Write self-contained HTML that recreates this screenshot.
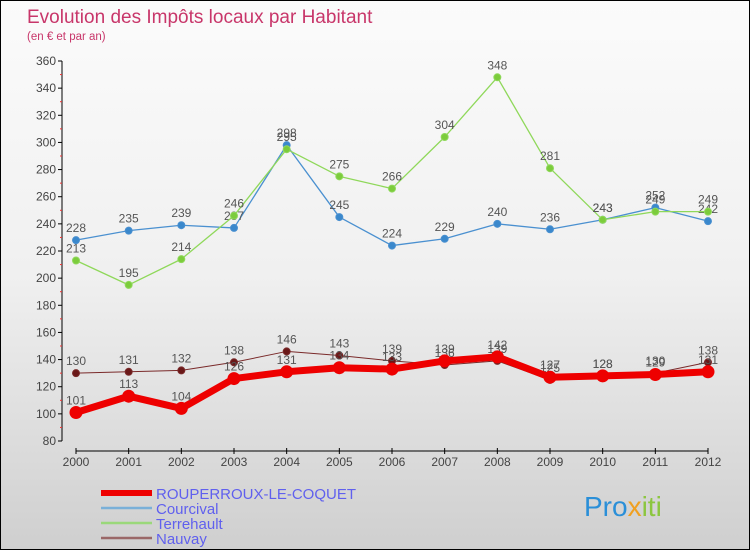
<!DOCTYPE html>
<html><head><meta charset="utf-8"><style>
body{margin:0;width:750px;height:550px;overflow:hidden;font-family:"Liberation Sans",sans-serif}
#wrap{position:relative;width:748px;height:548px;border:1px solid #000;background:linear-gradient(#fbfbfb,#f0f0f0 50%,#cfcfcf)}
</style></head><body>
<div id="wrap">
<svg id="chart" width="748" height="548">
<text x="26" y="22" font-size="19" fill="#c8366a">Evolution des Impôts locaux par Habitant</text>
<text x="26" y="39" font-size="11.5" fill="#c8366a">(en € et par an)</text>
<g id="axes"></g><g id="series"></g><g id="legend"></g>
<text x="583" y="515" font-size="28" fill="#2a8fd8">Pro<tspan fill="#f0a020">x</tspan><tspan fill="#8cc63f">iti</tspan></text>
</svg></div>
<script>
const years=[2000,2001,2002,2003,2004,2005,2006,2007,2008,2009,2010,2011,2012];
const rouperroux=[101,113,104,126,131,134,133,139,142,127,128,129,131];
const courcival=[228,235,239,237,298,245,224,229,240,236,243,252,242];
const terrehault=[213,195,214,246,295,275,266,304,348,281,243,249,249];
const nauvay=[130,131,132,138,146,143,139,136,139,125,128,130,138];
const yTicks=[80,100,120,140,160,180,200,220,240,260,280,300,320,340,360];
const NS="http://www.w3.org/2000/svg";
function X(i){return 75+i*(707-75)/(years.length-1);}
function Y(v){return 440-(v-80)*(380/280);}
function mk(t,a,p){const e=document.createElementNS(NS,t);for(const k in a)e.setAttribute(k,a[k]);p.appendChild(e);return e;}
const ax=document.getElementById('axes');
let l=mk('line',{x1:61,y1:60,x2:61,y2:440,stroke:'#000'},ax);


yTicks.forEach(v=>{
 mk('line',{x1:57,y1:Y(v),x2:61,y2:Y(v),stroke:'#000'},ax);
 if(v<360) mk('line',{x1:59,y1:Y(v+10),x2:61,y2:Y(v+10),stroke:'#e33'},ax);
 const t=mk('text',{x:55,y:Y(v)+4,'text-anchor':'end','font-size':12,fill:'#444'},ax);t.textContent=v;
 
 
});
l=mk('line',{x1:75,y1:450,x2:707,y2:450,stroke:'#000'},ax);


years.forEach((yr,i)=>{
 mk('line',{x1:X(i),y1:447,x2:X(i),y2:453,stroke:'#000'},ax);
 const t=mk('text',{x:X(i),y:465,'text-anchor':'middle','font-size':12,fill:'#444'},ax);t.textContent=yr;
 
 
});
const sg=document.getElementById('series');
function draw(data,color,w,r,name,pc){
 const g=mk('g',{},sg);
 
 
 mk('polyline',{points:data.map((v,i)=>X(i)+','+Y(v)).join(' '),fill:'none',stroke:color,'stroke-width':w,'stroke-linejoin':'round'},g);
 data.forEach((v,i)=>{
  const c=mk('circle',{cx:X(i),cy:Y(v),r:r,fill:pc,stroke:color,'stroke-width':1},g);
  
  
  const t=mk('text',{x:X(i),y:Y(v)-8,'text-anchor':'middle','font-size':12,fill:'#555'},g);t.textContent=v;
  
  
 });
}
draw(courcival,'#4a90d0',1.3,3.5,'series-courcival','#3a88cc');
draw(terrehault,'#8fd85a',1.3,3.5,'series-terrehault','#7ccc3c');
draw(nauvay,'#7a2a2a',1,3.5,'series-nauvay','#6a1818');
draw(rouperroux,'#ee0000',7,6,'series-rouperroux','#ee0000');
const lg=document.getElementById('legend');
const items=[['ROUPERROUX-LE-COQUET','#ee0000',6],['Courcival','#7ab0d8',2.5],['Terrehault','#9ad87a',2.5],['Nauvay','#9a6868',2.5]];
items.forEach((it,i)=>{
 const y=492+i*15;
 const g=mk('g',{},lg);
 
 
 mk('line',{x1:100,y1:y,x2:151,y2:y,stroke:it[1],'stroke-width':it[2]},g);
 const t=mk('text',{x:155,y:y+6,'font-size':15,fill:'#6060ee'},g);t.textContent=it[0];
});
</script>
</body></html>
